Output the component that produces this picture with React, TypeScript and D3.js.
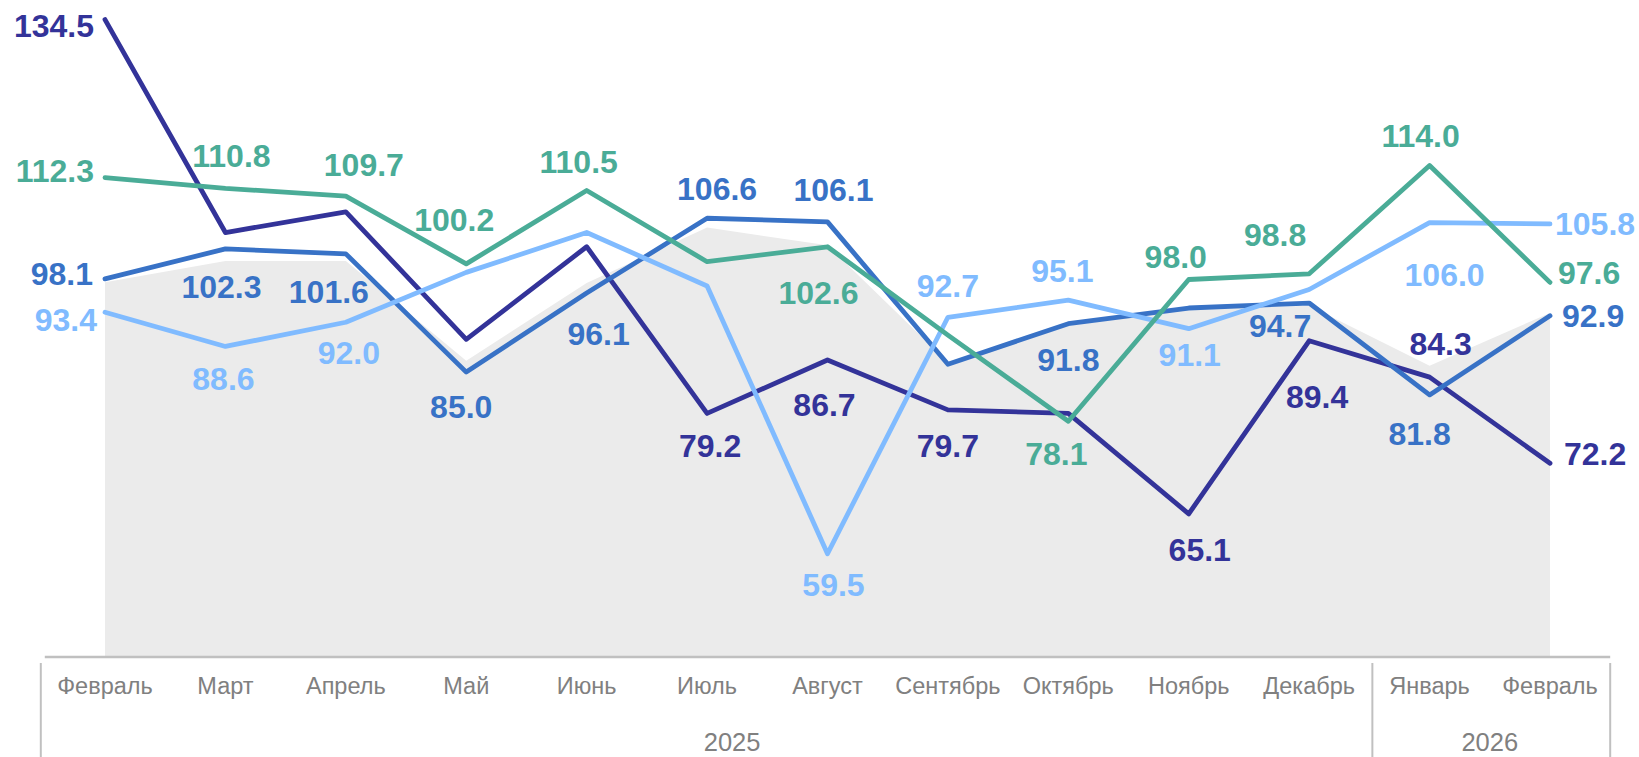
import React from "react";
import * as d3 from "d3";

// categories
const months = [
  "Февраль", "Март", "Апрель", "Май", "Июнь", "Июль", "Август",
  "Сентябрь", "Октябрь", "Ноябрь", "Декабрь", "Январь", "Февраль",
];
const years = [
  { label: "2025", first: 0, last: 10 },
  { label: "2026", first: 11, last: 12 },
];

// series values
const navyValues = [134.5, 104.6, 107.5, 89.6, 102.6, 79.2, 86.7, 79.7, 79.2, 65.1, 89.4, 84.3, 72.2];
const greenValues = [112.3, 110.8, 109.7, 100.2, 110.5, 100.5, 102.6, 90.2, 78.1, 98.0, 98.8, 114.0, 97.6];
const blueValues = [98.1, 102.3, 101.6, 85.0, 96.1, 106.6, 106.1, 86.1, 91.8, 94.0, 94.7, 81.8, 92.9];
const lightValues = [93.4, 88.6, 92.0, 99.0, 104.6, 97.1, 59.5, 92.7, 95.1, 91.1, 96.6, 106.0, 105.8];
const shadedValues = [97.6, 100.6, 100.6, 86.6, 97.5, 105.3, 102.8, 86.4, 91.5, 93.8, 94.3, 85.9, 93.3];

// label placement: [dx, dy, anchor] relative to the point, null = no label
type Place = [number, number, string] | null;
const navyLabels: Place[] = [
  [-11, 6, "end"], null, null, null, null, [3, 32, "middle"], [-3, 45, "middle"],
  [0, 36, "middle"], null, [11, 36, "middle"], [8, 56, "middle"], [11, -34, "middle"], [14, -10, "start"],
];
const greenLabels: Place[] = [
  [-11, -7, "end"], [6, -33, "middle"], [18, -32, "middle"], [-12, -44, "middle"], [-8, -29, "middle"],
  null, [-9, 46, "middle"], null, [-12, 32, "middle"], [-13, -23, "middle"], [-34, -39, "middle"],
  [-9, -30, "middle"], [8, -10, "start"],
];
const blueLabels: Place[] = [
  [-12, -5, "end"], [-4, 38, "middle"], [-17, 38, "middle"], [-5, 34, "middle"], [12, 40, "middle"],
  [10, -30, "middle"], [6, -32, "middle"], null, [0, 36, "middle"], null, [-29, 23, "middle"],
  [-10, 39, "middle"], [12, 0, "start"],
];
const lightLabels: Place[] = [
  [-8, 7, "end"], [-2, 32, "middle"], [3, 30, "middle"], null, null, null, [6, 31, "middle"],
  [0, -32, "middle"], [-6, -30, "middle"], [1, 26, "middle"], null, [15, 52, "middle"], [5, 0, "start"],
];

const series = [
  { name: "navy", color: "#333399", values: navyValues, labels: navyLabels },
  { name: "blue", color: "#3872c6", values: blueValues, labels: blueLabels },
  { name: "light", color: "#80bbff", values: lightValues, labels: lightLabels },
  { name: "green", color: "#4aac97", values: greenValues, labels: greenLabels },
];

const W = 1639;
const H = 757;
const font = "'Liberation Sans', Arial, sans-serif";
const labelSize = 32;

export default function App() {
  const x = d3.scalePoint<number>()
    .domain(d3.range(months.length))
    .range([44.8, 1610.2])
    .padding(0.5);
  const step = x.step();
  const y = d3.scaleLinear().domain([45, 135]).range([657, 16]);

  const line = d3.line<number>()
    .x((_, i) => x(i) as number)
    .y((d) => y(d));
  const area = d3.area<number>()
    .x((_, i) => x(i) as number)
    .y0(y(45))
    .y1((d) => y(d));

  const axisY = y(45);
  const separators = [
    (x(0) as number) - step / 2 - 4,
    (x(11) as number) - step / 2 + 3,
    (x(12) as number) + step / 2,
  ];

  return (
    <svg width={W} height={H} style={{ position: "absolute", left: 0, top: 0, background: "#fff" }}>
      <path d={area(shadedValues) || ""} fill="#ebebeb" />

      {series.map((s) => (
        <path
          key={s.name}
          d={line(s.values) || ""}
          fill="none"
          stroke={s.color}
          strokeWidth={4.8}
          strokeLinejoin="round"
          strokeLinecap="round"
        />
      ))}

      {series.map((s) =>
        s.values.map((v, i) => {
          const p = s.labels[i];
          if (!p) return null;
          return (
            <text
              key={s.name + i}
              x={(x(i) as number) + p[0]}
              y={y(v) + p[1] + labelSize * 0.358}
              textAnchor={p[2]}
              fill={s.color}
              fontFamily={font}
              fontWeight="bold"
              fontSize={labelSize}
            >
              {v.toFixed(1)}
            </text>
          );
        })
      )}

      {/* category axis */}
      <line x1={(x(0) as number) - step / 2} x2={(x(12) as number) + step / 2} y1={axisY} y2={axisY}
        stroke="#c0c0c0" strokeWidth={2.5} />
      {separators.map((sx, i) => (
        <line key={i} x1={sx} x2={sx} y1={663} y2={H} stroke="#c0c0c0" strokeWidth={2} />
      ))}
      {months.map((m, i) => (
        <text key={i} x={x(i) as number} y={694} textAnchor="middle" fill="#808080"
          fontFamily={font} fontSize={23.5}>
          {m}
        </text>
      ))}
      {years.map((g, i) => {
        const cx = i === 0
          ? ((x(g.first) as number) + (x(g.last) as number)) / 2 + 25
          : ((x(g.first) as number) + (x(g.last) as number)) / 2;
        return (
          <text key={g.label} x={cx} y={751} textAnchor="middle" fill="#808080"
            fontFamily={font} fontSize={25.5}>
            {g.label}
          </text>
        );
      })}
    </svg>
  );
}
